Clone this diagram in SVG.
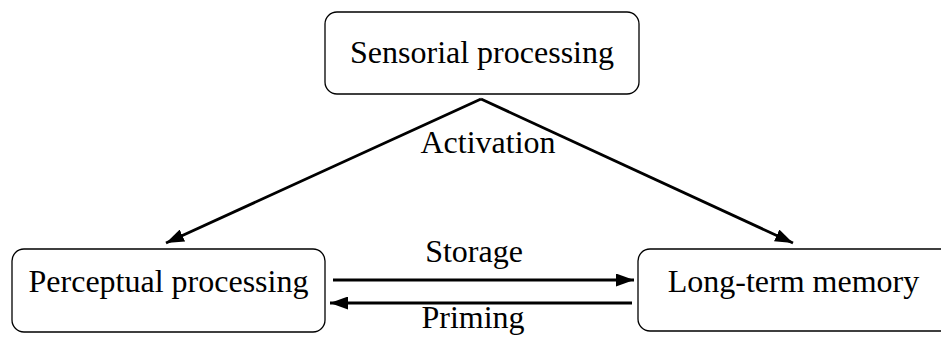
<svg xmlns="http://www.w3.org/2000/svg" width="941" height="342" viewBox="0 0 941 342">
<style>
.box{fill:#fff;stroke:#000;stroke-width:1.3}
.t{font-family:"Liberation Serif","Times New Roman",serif;font-size:32px;fill:#000}
.c{stroke:#000;stroke-width:2.8;fill:none}
</style>
<defs>
<marker id="ah2" viewBox="0 0 18 13" refX="18" refY="6.5" markerWidth="18" markerHeight="13" markerUnits="userSpaceOnUse" orient="auto">
<path d="M0,0 L18,6.5 L0,13 z" fill="#000"/>
</marker>
</defs>
<rect width="941" height="342" fill="#fff"/>
<g id="sensorial">
<rect class="box" x="325" y="12" width="314" height="82" rx="12"/>
<text class="t" x="482" y="63" text-anchor="middle">Sensorial processing</text>
</g>
<g id="perceptual">
<rect class="box" x="12" y="249" width="313" height="83" rx="12"/>
<text class="t" x="168.5" y="292" text-anchor="middle">Perceptual processing</text>
</g>
<g id="longterm">
<rect class="box" x="638" y="249" width="320" height="82" rx="12"/>
<text class="t" x="793.5" y="292" text-anchor="middle">Long-term memory</text>
</g>
<g id="connectors">
<line class="c" x1="481" y1="99" x2="166" y2="243" marker-end="url(#ah2)"/>
<line class="c" x1="481" y1="99" x2="793" y2="243" marker-end="url(#ah2)"/>
<line class="c" x1="333" y1="280" x2="634" y2="280" marker-end="url(#ah2)"/>
<line class="c" x1="632" y1="303" x2="330" y2="303" marker-end="url(#ah2)"/>
<text class="t" x="488" y="153" text-anchor="middle">Activation</text>
<text class="t" x="474" y="262" text-anchor="middle">Storage</text>
<text class="t" x="473" y="328" text-anchor="middle">Priming</text>
</g>
</svg>
